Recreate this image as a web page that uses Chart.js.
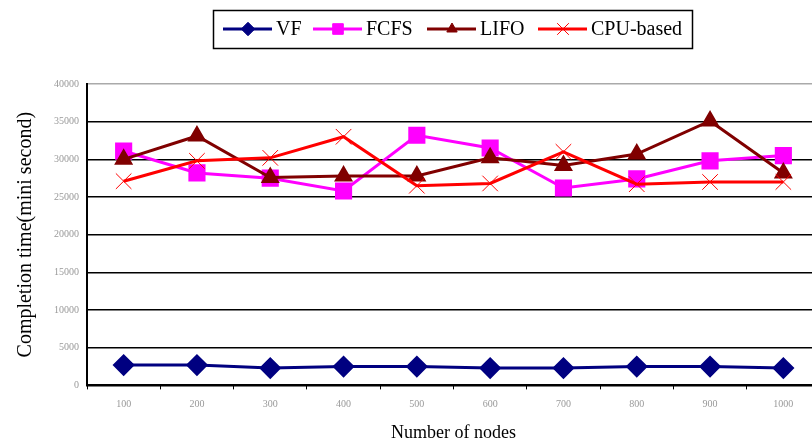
<!DOCTYPE html>
<html>
<head>
<meta charset="utf-8">
<script src="https://cdn.jsdelivr.net/npm/chart.js@4/dist/chart.umd.min.js"></script>
<style>
  html, body { margin: 0; padding: 0; background: #fff; overflow: hidden; }
  #wrap { width: 812px; height: 445px; overflow: hidden; }
</style>
</head>
<body>
<div id="wrap"><canvas id="chart" width="820" height="445"></canvas></div>
<script>
const nodes = ['100', '200', '300', '400', '500', '600', '700', '800', '900', '1000'];
const vf = [2700, 2700, 2300, 2500, 2500, 2300, 2300, 2500, 2500, 2300];
const fcfs = [31100, 28200, 27500, 25800, 33200, 31500, 26200, 27400, 29800, 30500];
const lifo = [30000, 33100, 27600, 27800, 27800, 30200, 29200, 30700, 35100, 28200];
const cpu = [27100, 29800, 30200, 33000, 26500, 26800, 31000, 26700, 27000, 27000];

const serif = '"Liberation Serif", "Times New Roman", serif';

// boxed legend with line + marker, like the old excel one
const boxLegend = {
  id: 'boxLegend',
  afterDraw(chart) {
    const ctx = chart.ctx;
    const starts = [223, 313, 427, 538];
    const y = 29;
    ctx.save();
    ctx.strokeStyle = '#000';
    ctx.lineWidth = 1.5;
    ctx.strokeRect(213.5, 10.5, 479, 38);
    chart.data.datasets.forEach((ds, i) => {
      const x = starts[i];
      ctx.strokeStyle = ds.borderColor;
      ctx.lineWidth = 3;
      ctx.beginPath();
      ctx.moveTo(x, y);
      ctx.lineTo(x + 49, y);
      ctx.stroke();
      ctx.fillStyle = ds.pointBackgroundColor;
      ctx.strokeStyle = ds.pointBorderColor;
      ctx.lineWidth = 1;
      Chart.helpers.drawPoint(ctx, {
        pointStyle: ds.pointStyle,
        radius: ds.pointRadius * 0.75,
        rotation: 0,
        borderWidth: 1
      }, x + 25, y);
      ctx.fillStyle = '#000';
      ctx.font = '20px ' + serif;
      ctx.textBaseline = 'middle';
      ctx.fillText(ds.label, x + 53, y + 1);
    });
    ctx.restore();
  }
};

new Chart(document.getElementById('chart'), {
  type: 'line',
  data: {
    labels: nodes,
    datasets: [
      {
        label: 'VF',
        data: vf,
        borderColor: '#000080',
        borderWidth: 3,
        pointStyle: 'rectRot',
        pointRadius: 9,
        pointBackgroundColor: '#000080',
        pointBorderColor: '#000080',
        order: 3,
      },
      {
        label: 'FCFS',
        data: fcfs,
        borderColor: '#ff00ff',
        borderWidth: 3,
        pointStyle: 'rect',
        pointRadius: 10,
        pointBackgroundColor: '#ff00ff',
        pointBorderColor: '#ff00ff',
        order: 2,
      },
      {
        label: 'LIFO',
        data: lifo,
        borderColor: '#800000',
        borderWidth: 3,
        pointStyle: 'triangle',
        pointRadius: 8,
        pointBackgroundColor: '#800000',
        pointBorderColor: '#800000',
        order: 1,
      },
      {
        label: 'CPU-based',
        data: cpu,
        borderColor: '#ff0000',
        borderWidth: 3,
        pointStyle: 'crossRot',
        pointRadius: 11,
        pointBackgroundColor: '#ff0000',
        pointBorderColor: '#ff0000',
        pointBorderWidth: 1,
        order: 0,
      },
    ],
  },
  options: {
    responsive: false,
    animation: false,
    layout: {
      autoPadding: false,
      padding: { top: 84, right: 0, bottom: 1, left: 14 },
    },
    scales: {
      x: {
        offset: true,
        afterFit: (scale) => {
          // the plot runs off the right edge like the original
          scale.paddingLeft = 0;
          scale.paddingRight = 0;
        },
        grid: {
          offset: true,
          drawOnChartArea: false,
          drawTicks: true,
          tickLength: 4,
          color: '#000',
        },
        border: { color: '#000', width: 2 },
        ticks: {
          color: '#999',
          padding: 9,
          font: { family: serif, size: 10 },
        },
        title: {
          display: true,
          text: 'Number of nodes',
          color: '#000',
          padding: { top: 3, bottom: 0 },
          font: { family: serif, size: 18 },
        },
      },
      y: {
        min: 0,
        max: 40000,
        ticks: {
          stepSize: 5000,
          color: '#999',
          padding: 8,
          font: { family: serif, size: 10 },
          callback: (v) => String(v),
        },
        grid: {
          drawTicks: false,
          lineWidth: 1.5,
          color: (c) => (c.tick && c.tick.value === 40000 ? '#aaa' : '#000'),
        },
        border: { color: '#000', width: 2 },
        title: {
          display: true,
          text: 'Completion time(mini second)',
          color: '#000',
          padding: { top: 0, bottom: 8 },
          font: { family: serif, size: 20 },
        },
      },
    },
    plugins: {
      legend: { display: false },
      tooltip: { enabled: false },
    },
  },
  plugins: [boxLegend],
});
</script>
</body>
</html>
